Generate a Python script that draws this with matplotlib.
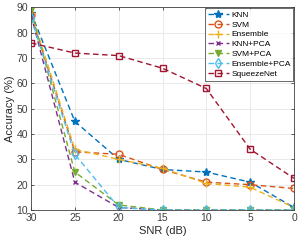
import matplotlib
matplotlib.use("Agg")
import matplotlib.pyplot as plt

plt.rcParams['font.family'] = ['Liberation Sans', 'DejaVu Sans']

snr = [30, 25, 20, 15, 10, 5, 0]
knn = [88, 45, 30, 26, 25, 21, 11]
svm = [87, 33, 32, 26, 21, 20, 18.5]
ensemble = [88, 34, 30, 26.5, 20.5, 19, 11]
knn_pca = [87, 21, 11, 10, 10, 10, 10]
svm_pca = [89, 25, 12, 10, 10, 10, 10]
ensemble_pca = [86, 32, 11, 10, 10, 10, 10]
squeezenet = [76, 72, 71, 66, 58, 34, 22.5]

series = [
    ("KNN", knn, '#0072BD', '*', 'full', 6),
    ("SVM", svm, '#D95319', 'o', 'none', 5),
    ("Ensemble", ensemble, '#EDB120', '+', 'full', 6),
    ("KNN+PCA", knn_pca, '#7E2F8E', 'x', 'full', 3.5),
    ("SVM+PCA", svm_pca, '#77AC30', 'v', 'full', 5),
    ("Ensemble+PCA", ensemble_pca, '#4DBEEE', 'd', 'none', 5),
    ("SqueezeNet", squeezenet, '#A2142F', 's', 'none', 4),
]

fig = plt.figure(figsize=(3.02, 2.43), dpi=100)
ax = fig.add_axes([31 / 302, 1 - 210 / 243, 263 / 302, 202.5 / 243])

for name, vals, col, mk, fill, ms in series:
    ax.plot(snr, vals, linestyle=(0, (4, 2.5)), color=col, marker=mk, fillstyle=fill,
            markersize=ms, linewidth=1, markeredgewidth=1, label=name)

ax.set_xlim(30, 0)
ax.set_ylim(10, 90)
ax.set_xticks([30, 25, 20, 15, 10, 5, 0])
ax.set_yticks(range(10, 91, 10))
ax.grid(True, color='#e6e6e6', linewidth=0.6)
ax.set_axisbelow(True)
ax.tick_params(direction='in', top=True, right=True, labelsize=7.5,
               colors='#404040', length=2.5, width=0.6, pad=2)
for s in ax.spines.values():
    s.set_color('#404040')
    s.set_linewidth(0.6)
ax.set_xlabel('SNR (dB)', fontsize=8, color='#262626', labelpad=2)
ax.set_ylabel('Accuracy (%)', fontsize=8, color='#262626', labelpad=1)

leg = ax.legend(loc='upper right', fontsize=6, frameon=True, fancybox=False,
                edgecolor='#262626', borderpad=0.3, labelspacing=0.25,
                handlelength=2.5, handletextpad=0.3, borderaxespad=0.1)
leg.get_frame().set_linewidth(0.6)

fig.savefig('out.png', dpi=100)
